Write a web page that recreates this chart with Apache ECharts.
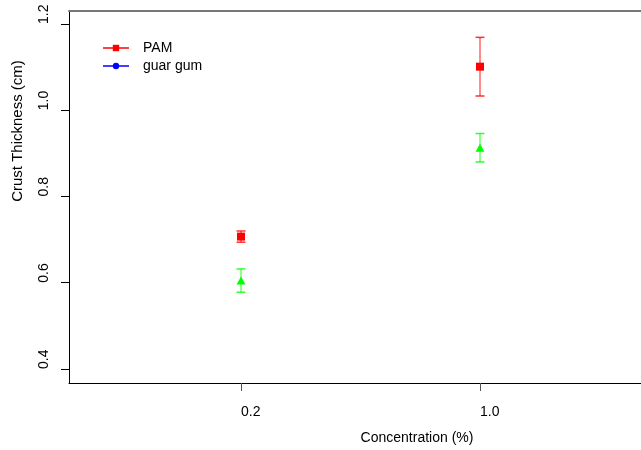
<!DOCTYPE html>
<html>
<head>
<meta charset="utf-8">
<script src="https://cdn.jsdelivr.net/npm/echarts@6/dist/echarts.min.js"></script>
<style>
html,body{margin:0;padding:0;background:#fff;}
#chart{width:641px;height:450px;}
</style>
</head>
<body>
<div id="chart"></div>
<script>
// ---- data ----
const concentrations = ['0.2', '1.0'];
const xPositions = [1, 2];
const pamMean = [0.707, 1.101];
const pamErr = [0.013, 0.068];
const guarMean = [0.605, 0.913];
const guarErr = [0.027, 0.033];
const yTicks = [0.4, 0.6, 0.8, 1.0, 1.2];

const FONT = 'Liberation Sans, Arial, sans-serif';
const chart = echarts.init(document.getElementById('chart'), null, {renderer: 'canvas'});

function lineData(means) {
  // a gap between points so no connecting line is drawn
  const out = [];
  means.forEach((m, i) => {
    if (i > 0) out.push([(xPositions[i - 1] + xPositions[i]) / 2, '-']);
    out.push([xPositions[i], m]);
  });
  return out;
}
function errData(means, errs) {
  return means.map((m, i) => [xPositions[i], m - errs[i], m + errs[i]]);
}
function errRender(color) {
  return function (params, api) {
    const x = api.value(0);
    const lo = api.coord([x, api.value(1)]);
    const hi = api.coord([x, api.value(2)]);
    const hw = 4.5;
    return {
      type: 'group',
      children: [
        {type: 'line', shape: {x1: lo[0], y1: lo[1], x2: hi[0], y2: hi[1]}, style: {stroke: color, lineWidth: 1.3, opacity: 0.7}},
        {type: 'line', shape: {x1: lo[0] - hw, y1: lo[1], x2: lo[0] + hw, y2: lo[1]}, style: {stroke: color, lineWidth: 1.5, opacity: 0.8}},
        {type: 'line', shape: {x1: hi[0] - hw, y1: hi[1], x2: hi[0] + hw, y2: hi[1]}, style: {stroke: color, lineWidth: 1.5, opacity: 0.8}}
      ]
    };
  };
}

const xMin = 0.2803, xMax = 2.6736;

const option = {
  backgroundColor: '#fff',
  animation: false,
  textStyle: {fontFamily: FONT},
  grid: {left: 69, top: 11, bottom: 67, right: 0, containLabel: false, outerBoundsMode: 'none'},
  legend: {
    left: 102, top: 41, orient: 'vertical', padding: 0,
    itemWidth: 26, itemHeight: 8, itemGap: 4,
    textStyle: {fontSize: 14, color: '#000', fontFamily: FONT, padding: [0, 0, 0, 9], lineHeight: 14},
    data: ['PAM', 'guar gum']
  },
  xAxis: [{
    type: 'value', min: xMin, max: xMax,
    axisLine: {show: true, lineStyle: {color: '#000', width: 1}},
    axisTick: {show: true, length: 8, customValues: xPositions, lineStyle: {color: '#555'}},
    axisLabel: {
      customValues: xPositions, fontSize: 14, color: '#000', fontFamily: FONT,
      align: 'left', verticalAlign: 'middle', margin: 29,
      formatter: v => concentrations[xPositions.indexOf(v)] || ''
    },
    splitLine: {show: false}
  }, {
    type: 'value', min: xMin, max: xMax, position: 'top',
    axisLine: {show: true, lineStyle: {color: '#777', width: 2}},
    axisTick: {show: false}, axisLabel: {show: false}, splitLine: {show: false}
  }],
  yAxis: {
    type: 'value', min: 0.3675, max: 1.2301,
    axisLine: {show: true, lineStyle: {color: '#000', width: 1}},
    axisTick: {show: true, length: 8, customValues: yTicks, lineStyle: {color: '#000'}},
    axisLabel: {
      customValues: yTicks, rotate: 90, fontSize: 14, color: '#000', fontFamily: FONT,
      align: 'left', verticalAlign: 'middle', margin: 25,
      formatter: v => v.toFixed(1)
    },
    splitLine: {show: false}
  },
  graphic: [{
    type: 'text', x: 18, y: 131, rotation: Math.PI / 2,
    style: {text: 'Crust Thickness (cm)', font: '15px ' + FONT, fill: '#000', align: 'center', verticalAlign: 'middle'}
  }, {
    type: 'text', x: 417, y: 438,
    style: {text: 'Concentration (%)', font: '14px ' + FONT, fill: '#000', align: 'center', verticalAlign: 'middle'}
  }],
  series: [
    {type: 'custom', name: 'PAM err', renderItem: errRender('#ff0000'), data: errData(pamMean, pamErr), z: 1, silent: true},
    {type: 'custom', name: 'guar err', renderItem: errRender('#00ff00'), data: errData(guarMean, guarErr), z: 1, silent: true},
    {
      type: 'line', name: 'PAM', data: lineData(pamMean), z: 3,
      symbol: 'rect', symbolSize: 8, showSymbol: true, connectNulls: false,
      itemStyle: {color: '#ff0000'}, lineStyle: {color: '#ff0000', width: 1.2, opacity: 0.75}
    },
    {
      type: 'line', name: 'guar gum', z: 3,
      data: lineData(guarMean).map(d => d[1] === '-' ? d : {value: d, symbol: 'triangle', symbolSize: [9, 8], itemStyle: {color: '#00ff00'}}),
      symbol: 'circle', symbolSize: 7, showSymbol: true, connectNulls: false,
      itemStyle: {color: '#0000ff'}, lineStyle: {color: '#0000ff', width: 1.2, opacity: 0.75}
    }
  ]
};
chart.setOption(option);
</script>
</body>
</html>
